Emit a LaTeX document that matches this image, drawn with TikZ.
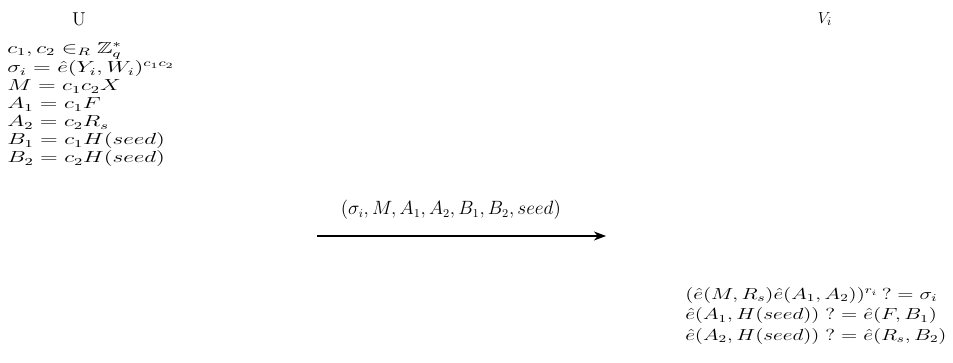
\documentclass[tikz,border=0pt]{standalone}
\usepackage{amsmath,amssymb}
\usepackage{tikz}
\usetikzlibrary{arrows.meta,positioning}
\newcommand{\wideline}[2]{\scalebox{#1}[1]{#2}}

\begin{document}
\begin{tikzpicture}[x=0.75pt,y=-0.75pt]
  \path[use as bounding box] (0,0) rectangle (953,363);
  % the two parties
  \node[font=\fontsize{14}{16}\selectfont] (user) at (79,19) {U};
  \node[font=\fontsize{13}{15}\selectfont] (verifier) at (825,19) {$V_i$};
  % what U computes
  \node[font=\fontsize{12}{13.5}\selectfont,align=left,anchor=north west,inner sep=0pt] (ucalc) at (7,42)
    {\wideline{1.45}{$c_1,c_2\in_R\mathbb{Z}_q^{*}$}\\
     \wideline{1.45}{$\sigma_i=\hat{e}(Y_i,W_i)^{c_1c_2}$}\\
     \wideline{1.45}{$M=c_1c_2X$}\\
     \wideline{1.45}{$A_1=c_1F$}\\
     \wideline{1.45}{$A_2=c_2R_s$}\\
     \wideline{1.45}{$B_1=c_1H(seed)$}\\
     \wideline{1.45}{$B_2=c_2H(seed)$}};
  % the message
  \coordinate (from) at (317,236);
  \coordinate (to) at (606,236);
  \draw[line width=0.9pt,-{Stealth[length=3.2mm,width=2.4mm]}] (from) -- (to)
    node[midway,above=9pt,xshift=-8pt,font=\fontsize{13.5}{15}\selectfont] (msg) {$(\sigma_i,M,A_1,A_2,B_1,B_2,seed)$};
  % what V_i checks
  \node[font=\fontsize{12}{15.5}\selectfont,align=left,anchor=north west,inner sep=0pt] (vcheck) at (685,287)
    {\wideline{1.33}{$(\hat{e}(M,R_s)\hat{e}(A_1,A_2))^{r_i}\,?=\sigma_i$}\\
     \wideline{1.33}{$\hat{e}(A_1,H(seed))\;?=\hat{e}(F,B_1)$}\\
     \wideline{1.33}{$\hat{e}(A_2,H(seed))\;?=\hat{e}(R_s,B_2)$}};
\end{tikzpicture}
\end{document}
